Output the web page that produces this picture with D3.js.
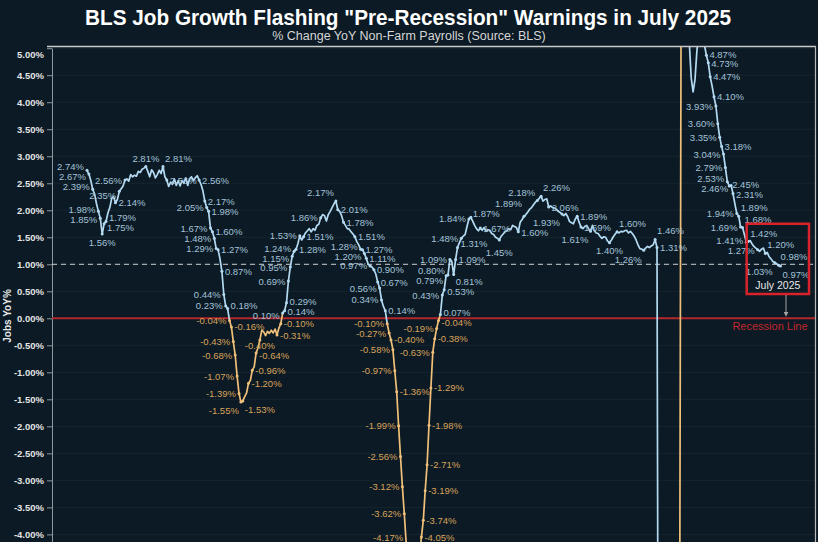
<!DOCTYPE html>
<html>
<head>
<meta charset="utf-8">
<script src="https://cdn.jsdelivr.net/npm/d3@7"></script>
<style>
    body { margin: 0; background: #0b1a24; }
    svg { display: block; font-family: "Liberation Sans", Arial, sans-serif; }
</style>
</head>
<body>
<svg></svg>
<script>
// YoY % change in non-farm payrolls, one value per month
const late90s = [2.74, 2.67, 2.55, 2.39, 2.30, 2.12, 1.98, 1.85, 1.56, 1.75, 1.79, 1.95, 2.05, 2.22, 2.25, 2.14, 2.20, 2.35, 2.40, 2.45,
    2.56, 2.58, 2.54, 2.66, 2.62, 2.65, 2.63, 2.72, 2.70, 2.76, 2.78, 2.81, 2.72, 2.62, 2.75, 2.70, 2.60, 2.66, 2.74, 2.68,
    2.81, 2.62, 2.56, 2.44, 2.52, 2.48, 2.58, 2.46, 2.55, 2.45, 2.55, 2.50, 2.60, 2.46, 2.58, 2.62, 2.55, 2.60, 2.64, 2.56]
const dotcom = [2.48, 2.36, 2.17, 2.05, 1.98, 1.67, 1.60, 1.48, 1.29, 1.27, 1.10, 0.87, 0.44, 0.23, 0.18, -0.04, -0.16, -0.43, -0.68, -1.07,
    -1.39, -1.55, -1.53, -1.45, -1.38, -1.20, -1.15, -0.96, -0.90, -0.64, -0.55, -0.40, -0.22, -0.25, -0.32, -0.24, -0.28, -0.22, -0.27, -0.20,
    -0.31, -0.18, -0.10, 0.10, 0.14, 0.29, 0.69, 0.95, 1.15, 1.24, 1.28, 1.38, 1.53, 1.45, 1.51, 1.58, 1.62, 1.66, 1.60, 1.66,
    1.63, 1.72, 1.74, 1.86, 1.92, 1.90, 1.80, 1.92, 1.98, 2.05, 2.12, 2.17]
const housing = [2.01, 1.98, 1.90, 1.78, 1.72, 1.66, 1.65, 1.60, 1.56, 1.51, 1.42, 1.36, 1.28, 1.27, 1.20, 1.11, 1.00, 0.97, 0.95, 0.90,
    0.82, 0.67, 0.56, 0.34, 0.22, 0.14, -0.10, -0.27, -0.40, -0.58, -0.97, -1.36, -1.99, -2.56, -3.12, -3.62, -4.17, -4.50, -4.78, -4.95,
    -5.02, -4.90, -4.70, -4.40, -4.05, -3.74, -3.19, -2.71, -1.98, -1.29, -0.63, -0.38, -0.19, -0.04, 0.07, 0.43, 0.53, 0.79, 0.80, 1.09,
    1.05, 0.81, 1.09, 1.31, 1.40, 1.48, 1.52, 1.55, 1.70, 1.84]
const expansion = [1.87, 1.80, 1.72, 1.66, 1.62, 1.67, 1.63, 1.68, 1.61, 1.64, 1.63, 1.57, 1.55, 1.50, 1.48, 1.45, 1.52, 1.56, 1.60, 1.62,
    1.66, 1.64, 1.72, 1.70, 1.68, 1.60, 1.78, 1.83, 1.89, 1.92, 1.97, 2.02, 2.05, 2.10, 2.15, 2.18, 2.22, 2.26, 2.17, 2.20,
    2.21, 2.06, 2.08, 2.05, 2.04, 2.02, 1.98, 1.96, 1.93, 1.90, 1.94, 1.88, 1.79, 1.77, 1.75, 1.84, 1.89, 1.78, 1.69, 1.66,
    1.70, 1.72, 1.66, 1.61, 1.72, 1.62, 1.58, 1.57, 1.52, 1.48, 1.51, 1.50, 1.43, 1.40, 1.45, 1.51, 1.56, 1.60, 1.58, 1.61,
    1.60, 1.62, 1.63, 1.58, 1.61, 1.57, 1.52, 1.45, 1.36, 1.29, 1.28, 1.26, 1.30, 1.33, 1.31, 1.34, 1.36, 1.46, 1.31]
const covid = [-13.0, -11.8, -8.3, -7.1, -6.2, -5.8, -5.9, -6.3, -6.0, -5.7, -5.0, -4.6,
    10.6, 9.3, 8.0, 6.0, 5.1, 4.45, 4.19, 4.42, 4.95, 5.30, 5.50, 5.30, 5.05]
const lateCycle = [4.87, 4.73, 4.47, 4.30, 4.10, 3.93, 3.60, 3.35, 3.18, 3.04, 2.79, 2.53, 2.45, 2.46, 2.31, 2.12, 1.94, 1.89, 1.69, 1.68,
    1.55, 1.41, 1.42, 1.44, 1.38, 1.33, 1.30, 1.27, 1.24, 1.28, 1.30, 1.20, 1.22, 1.14, 1.10, 1.05, 1.03, 1.01, 0.98, 0.97]

const values = [].concat(late90s, dotcom, housing, expansion, covid, lateCycle)
const yTicks = d3.range(-4, 5.001, 0.5)

// which months carry a value label, and on which side of the line
const labelPoints = [
    [0, 'L'], [1, 'L'], [3, 'L'], [6, 'L'], [7, 'L'], [8, 'B'], [9, 'R'], [10, 'R'], [15, 'R'], [17, 'L'], [20, 'L'],
    [31, 'T'], [40, 'TR'], [42, 'R'], [59, 'R'],
    [62, 'R'], [63, 'L'], [64, 'R'], [65, 'L'], [66, 'R'], [67, 'L'], [68, 'L'], [69, 'R'], [71, 'R'], [72, 'L'], [73, 'L'],
    [74, 'R'], [75, 'L'], [76, 'R'], [77, 'L'], [78, 'L'], [79, 'L'], [80, 'L'], [81, 'BL'], [82, 'BR'], [85, 'R'], [87, 'R'],
    [89, 'R'], [91, 'B'], [100, 'R'], [102, 'R'], [103, 'L'], [104, 'R'], [105, 'R'], [106, 'L'], [107, 'L'], [108, 'L'],
    [109, 'L'], [110, 'R'], [112, 'L'], [114, 'R'], [123, 'L'], [131, 'TL'], [132, 'R'],
    [135, 'R'], [141, 'R'], [144, 'L'], [145, 'R'], [146, 'L'], [147, 'R'], [149, 'L'], [151, 'R'], [153, 'R'], [154, 'L'],
    [155, 'L'], [157, 'R'], [158, 'L'], [159, 'L'], [160, 'R'], [161, 'L'], [162, 'L'], [163, 'R'], [164, 'L'], [165, 'L'],
    [166, 'L'], [167, 'L'], [168, 'L'],
    [176, 'R'], [177, 'R'], [178, 'R'], [179, 'R'], [180, 'R'], [181, 'R'], [182, 'L'], [183, 'R'], [184, 'L'], [185, 'R'],
    [186, 'R'], [187, 'L'], [188, 'R'], [189, 'L'], [190, 'L'], [191, 'L'], [193, 'BR'], [194, 'R'], [195, 'R'], [197, 'L'],
    [201, 'L'],
    [202, 'TR'], [207, 'R'], [217, 'B'], [227, 'R'], [230, 'TL'], [237, 'TL'], [239, 'TR'], [243, 'R'], [250, 'BL'],
    [258, 'R'], [260, 'R'], [265, 'BL'], [275, 'B'], [279, 'TR'], [293, 'BL'], [299, 'TR'], [300, 'R'],
    [326, 'R'], [327, 'R'], [328, 'R'], [330, 'R'], [331, 'L'], [332, 'L'], [333, 'L'], [334, 'R'], [335, 'L'], [336, 'L'],
    [337, 'L'], [338, 'R'], [339, 'L'], [340, 'R'], [342, 'L'], [343, 'TR'], [344, 'L'], [345, 'TR'], [347, 'L'], [348, 'TR'],
    [353, 'L'], [357, 'TR'], [362, 'BL'], [364, 'TR'], [365, 'BR']
]

const width = 818
const height = 542
const plot = { left: 52, right: 815, top: 47, bottom: 542 }
const blue = '#b4daf2'
const orange = '#f0c07a'

const svg = d3.select('svg')
    .attr('width', width)
    .attr('height', height)

svg.append('rect')
    .attr('width', width)
    .attr('height', height)
    .attr('fill', '#0b1a24')

const x = d3.scaleLinear()
    .domain([0, values.length - 1])
    .range([87, 780.5])

const y = d3.scaleLinear()
    .domain([-4.2, 5])
    .range([545.2, 48.2])

// titels
svg.append('text')
    .attr('x', 408)
    .attr('y', 25)
    .attr('text-anchor', 'middle')
    .attr('fill', '#ffffff')
    .attr('font-size', 22)
    .attr('font-weight', 'bold')
    .attr('textLength', 646)
    .attr('lengthAdjust', 'spacingAndGlyphs')
    .text('BLS Job Growth Flashing "Pre-Recession" Warnings in July 2025')

svg.append('text')
    .attr('x', 409)
    .attr('y', 39.5)
    .attr('text-anchor', 'middle')
    .attr('fill', '#d6d6d6')
    .attr('font-size', 12.5)
    .text('% Change YoY Non-Farm Payrolls (Source: BLS)')

// grid
svg.append('g')
    .selectAll('line')
    .data(yTicks)
    .join('line')
    .attr('x1', plot.left)
    .attr('x2', plot.right)
    .attr('y1', d => y(d))
    .attr('y2', d => y(d))
    .attr('stroke', '#16262f')
    .attr('stroke-width', 1)

// frame
svg.append('line')
    .attr('x1', plot.left - 5).attr('x2', plot.right + 1)
    .attr('y1', 46.5).attr('y2', 46.5)
    .attr('stroke', '#c9c9c9').attr('stroke-width', 1.5)

svg.append('line')
    .attr('x1', plot.right + 0.5).attr('x2', plot.right + 0.5)
    .attr('y1', 46).attr('y2', height)
    .attr('stroke', '#b9b9b9').attr('stroke-width', 1.2)

const axis = svg.append('g')
    .attr('transform', `translate(${plot.left},0)`)
    .call(d3.axisLeft(y)
        .tickValues(yTicks)
        .tickFormat(d => d.toFixed(2) + '%')
        .tickSize(5)
        .tickSizeOuter(0))

axis.select('.domain').attr('stroke', '#8f989e')
axis.selectAll('.tick line').attr('stroke', '#8f989e')
axis.selectAll('.tick text')
    .attr('fill', '#e4e4e4')
    .attr('font-size', 9.5)
    .attr('font-weight', 'bold')
    .attr('font-family', '"Liberation Sans", Arial, sans-serif')
    .attr('dy', d => d === 5 ? '0.95em' : '0.32em')

svg.append('text')
    .attr('transform', 'translate(11,316) rotate(-90)')
    .attr('text-anchor', 'middle')
    .attr('fill', '#e8e8e8')
    .attr('font-size', 10)
    .attr('font-weight', 'bold')
    .text('Jobs YoY%')

// reference lines
svg.append('line')
    .attr('x1', plot.left).attr('x2', plot.right)
    .attr('y1', y(1)).attr('y2', y(1))
    .attr('stroke', '#cfcfcf')
    .attr('stroke-width', 1)
    .attr('stroke-dasharray', '5,4')

svg.append('line')
    .attr('x1', plot.left).attr('x2', plot.right)
    .attr('y1', y(0)).attr('y2', y(0))
    .attr('stroke', '#b3262b')
    .attr('stroke-width', 2)

svg.append('clipPath')
    .attr('id', 'clip')
    .append('rect')
    .attr('x', plot.left)
    .attr('y', plot.top)
    .attr('width', plot.right - plot.left)
    .attr('height', plot.bottom - plot.top)

// segments krijgen de kleur van hun beginpunt
const runs = []
values.forEach((v, i) => {
    if (i === values.length - 1) return
    const neg = v < 0
    const last = runs[runs.length - 1]
    if (last && last.neg === neg) last.pts.push(i + 1)
    else runs.push({ neg, pts: [i, i + 1] })
})

const line = d3.line()
    .x(i => x(i))
    .y(i => y(values[i]))

svg.append('g')
    .attr('clip-path', 'url(#clip)')
    .selectAll('path')
    .data(runs)
    .join('path')
    .attr('d', d => line(d.pts))
    .attr('fill', 'none')
    .attr('stroke', d => d.neg ? orange : blue)
    .attr('stroke-width', 1.7)
    .attr('stroke-linejoin', 'round')

// labels
const labelData = labelPoints.map(([i, side]) => {
    const px = x(i)
    const py = y(values[i])
    const d = { i, side, px, py, value: values[i] }
    if (side === 'L') { d.tx = px - 3; d.ty = py + 3.5; d.anchor = 'end' }
    else if (side === 'R') { d.tx = px + 3; d.ty = py + 3.5; d.anchor = 'start' }
    else if (side === 'T') { d.tx = px; d.ty = py - 5; d.anchor = 'middle' }
    else if (side === 'B') { d.tx = px; d.ty = py + 12; d.anchor = 'middle' }
    else if (side === 'TL') { d.tx = px - 2; d.ty = py - 5; d.anchor = 'end' }
    else if (side === 'TR') { d.tx = px + 2; d.ty = py - 5; d.anchor = 'start' }
    else if (side === 'BL') { d.tx = px - 2; d.ty = py + 12; d.anchor = 'end' }
    else { d.tx = px + 2; d.ty = py + 12; d.anchor = 'start' }
    return d
})

svg.append('g')
    .selectAll('circle')
    .data(labelData.filter(d => d.py > plot.top && d.py < plot.bottom))
    .join('circle')
    .attr('cx', d => d.px)
    .attr('cy', d => d.py)
    .attr('r', 1.5)
    .attr('fill', d => d.value < 0 ? orange : blue)

const labels = svg.append('g')
    .selectAll('text')
    .data(labelData)
    .join('text')
    .attr('text-anchor', d => d.anchor)
    .attr('fill', d => d.value < 0 ? '#d8a35c' : '#a4c2d9')
    .attr('font-size', 9.5)
    .text(d => d.value.toFixed(2) + '%')

labels.each(function (d) { d.w = this.getComputedTextLength() })

spreidLabels(labelData)

labels
    .attr('x', d => d.tx)
    .attr('y', d => d.ty)

// annotatie juli 2025
const last = values.length - 1
const boxLeft = x(348) - 1.5
const boxRight = x(last) + 28.5

svg.append('rect')
    .attr('x', boxLeft)
    .attr('y', y(1.75))
    .attr('width', boxRight - boxLeft)
    .attr('height', y(0.45) - y(1.75))
    .attr('fill', 'none')
    .attr('stroke', '#d9232b')
    .attr('stroke-width', 2.5)

svg.append('text')
    .attr('x', (boxLeft + boxRight) / 2)
    .attr('y', y(0.45) - 4.5)
    .attr('text-anchor', 'middle')
    .attr('fill', '#e8e8e8')
    .attr('font-size', 10.5)
    .text('July 2025')

svg.append('defs')
    .append('marker')
    .attr('id', 'pijl')
    .attr('viewBox', '0 0 10 10')
    .attr('refX', 5).attr('refY', 5)
    .attr('markerWidth', 5).attr('markerHeight', 5)
    .attr('orient', 'auto')
    .append('path')
    .attr('d', 'M0,0 L10,5 L0,10 z')
    .attr('fill', '#a3a3a3')

svg.append('line')
    .attr('x1', x(last) + 5.5).attr('x2', x(last) + 5.5)
    .attr('y1', y(0.45) + 1).attr('y2', y(0) - 4)
    .attr('stroke', '#a3a3a3')
    .attr('stroke-width', 1)
    .attr('marker-end', 'url(#pijl)')

svg.append('text')
    .attr('x', 770)
    .attr('y', y(0) + 12)
    .attr('text-anchor', 'middle')
    .attr('fill', '#c1272d')
    .attr('font-size', 11)
    .text('Recession Line')

// duw overlappende labels verticaal uit elkaar
function spreidLabels(data) {
    const box = d => {
        const x0 = d.anchor === 'start' ? d.tx : d.anchor === 'end' ? d.tx - d.w : d.tx - d.w / 2
        return [x0, d.ty - 8, x0 + d.w, d.ty + 1.5]
    }
    for (let k = 0; k < 120; k++) {
        let moved = false
        for (let a = 0; a < data.length; a++) {
            for (let b = a + 1; b < data.length; b++) {
                const ba = box(data[a])
                const bb = box(data[b])
                if (ba[0] >= bb[2] || bb[0] >= ba[2]) continue
                if (ba[1] >= bb[3] || bb[1] >= ba[3]) continue
                const overlap = Math.min(ba[3], bb[3]) - Math.max(ba[1], bb[1])
                const upper = data[a].ty <= data[b].ty ? data[a] : data[b]
                const lower = upper === data[a] ? data[b] : data[a]
                upper.ty -= overlap / 2 + 0.2
                lower.ty += overlap / 2 + 0.2
                moved = true
            }
        }
        data.forEach(d => { d.ty = Math.max(57, Math.min(541, d.ty)) })
        if (!moved) break
    }
}
</script>
</body>
</html>
